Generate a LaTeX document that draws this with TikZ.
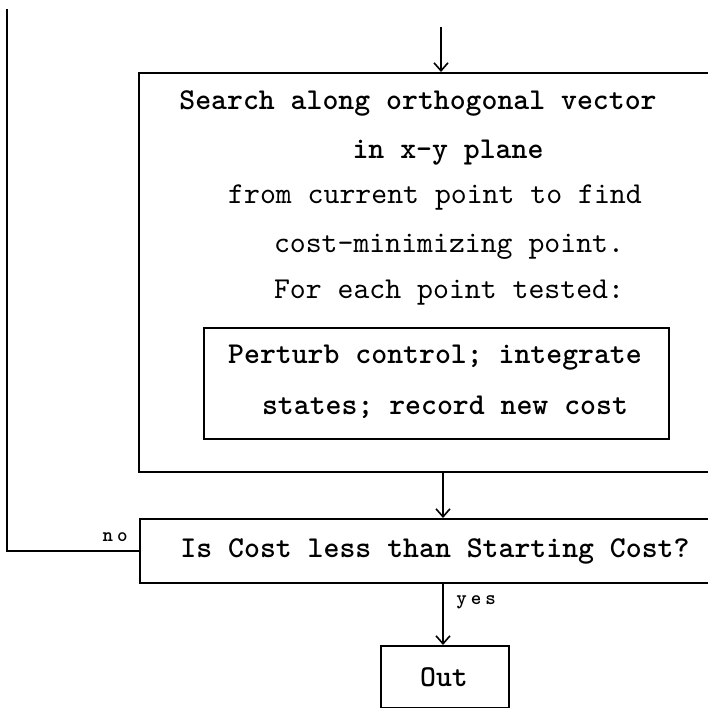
\documentclass[tikz,border=0pt]{standalone}
\usepackage{fontspec}
\newfontfamily\mmreg{lmmono10-regular}[Extension=.otf]
\newfontfamily\mmbold{lmmonolt10-bold}[Extension=.otf]
\newfontfamily\lblfont{lmmonolt10-bold}[Extension=.otf,LetterSpace=20]
\usetikzlibrary{arrows.meta}
\tikzset{
  box/.style={draw, line width=1.8pt, rectangle, inner sep=0pt},
  btxt/.style={inner sep=0pt, font=\mmbold\fontsize{30.3}{34}\selectfont},
  rtxt/.style={inner sep=0pt, font=\mmreg\fontsize{30.3}{34}\selectfont},
  lbl/.style={inner sep=0pt, font=\lblfont\fontsize{20}{22}\selectfont},
  conn/.style={line width=1.8pt},
  arr/.style={line width=1.8pt, -{Straight Barb[length=8pt,width=14pt,line width=1.6pt]}}
}
\begin{document}
\begin{tikzpicture}[x=1pt,y=-1pt]
\useasboundingbox (0,0) rectangle (708,708);
% main search box (right side runs off the page)
\node[box, anchor=north west, minimum width=582pt, minimum height=399pt] (main) at (138,72) {};
\node[btxt] (t1) at (418,103) {Search along orthogonal vector};
\node[btxt] (t2) at (448,153) {in x-y plane};
\node[rtxt] (t3) at (435,198) {from current point to find};
\node[rtxt] (t4) at (449,247) {cost-minimizing point.};
\node[rtxt] (t5) at (449,293) {For each point tested:};
% inner box
\node[box, anchor=north west, minimum width=465pt, minimum height=111pt] (inner) at (203,327) {};
\node[btxt] (i1) at (435,358) {Perturb control; integrate};
\node[btxt] (i2) at (445,407) {states; record new cost};
% decision box
\node[box, anchor=north west, minimum width=581pt, minimum height=64pt] (dec) at (139,518) {};
\node[btxt] (d1) at (435,551) {Is Cost less than Starting Cost?};
% out box
\node[box, anchor=north west, minimum width=128pt, minimum height=62pt] (out) at (380,645) {};
\node[btxt] (o1) at (444,677) {Out};
% connectors
\coordinate (in) at (441,27);
\coordinate (loop) at (7,9);
\draw[arr] (in) -- (in |- main.north);
\draw[arr] (443,471) -- (443,518);
\draw[arr] (443,582) -- (443,645);
\draw[conn] (dec.west) -| (loop);
\node[lbl] (no) at (115,537) {no};
\node[lbl] (yes) at (476,602) {yes};
\end{tikzpicture}
\end{document}
